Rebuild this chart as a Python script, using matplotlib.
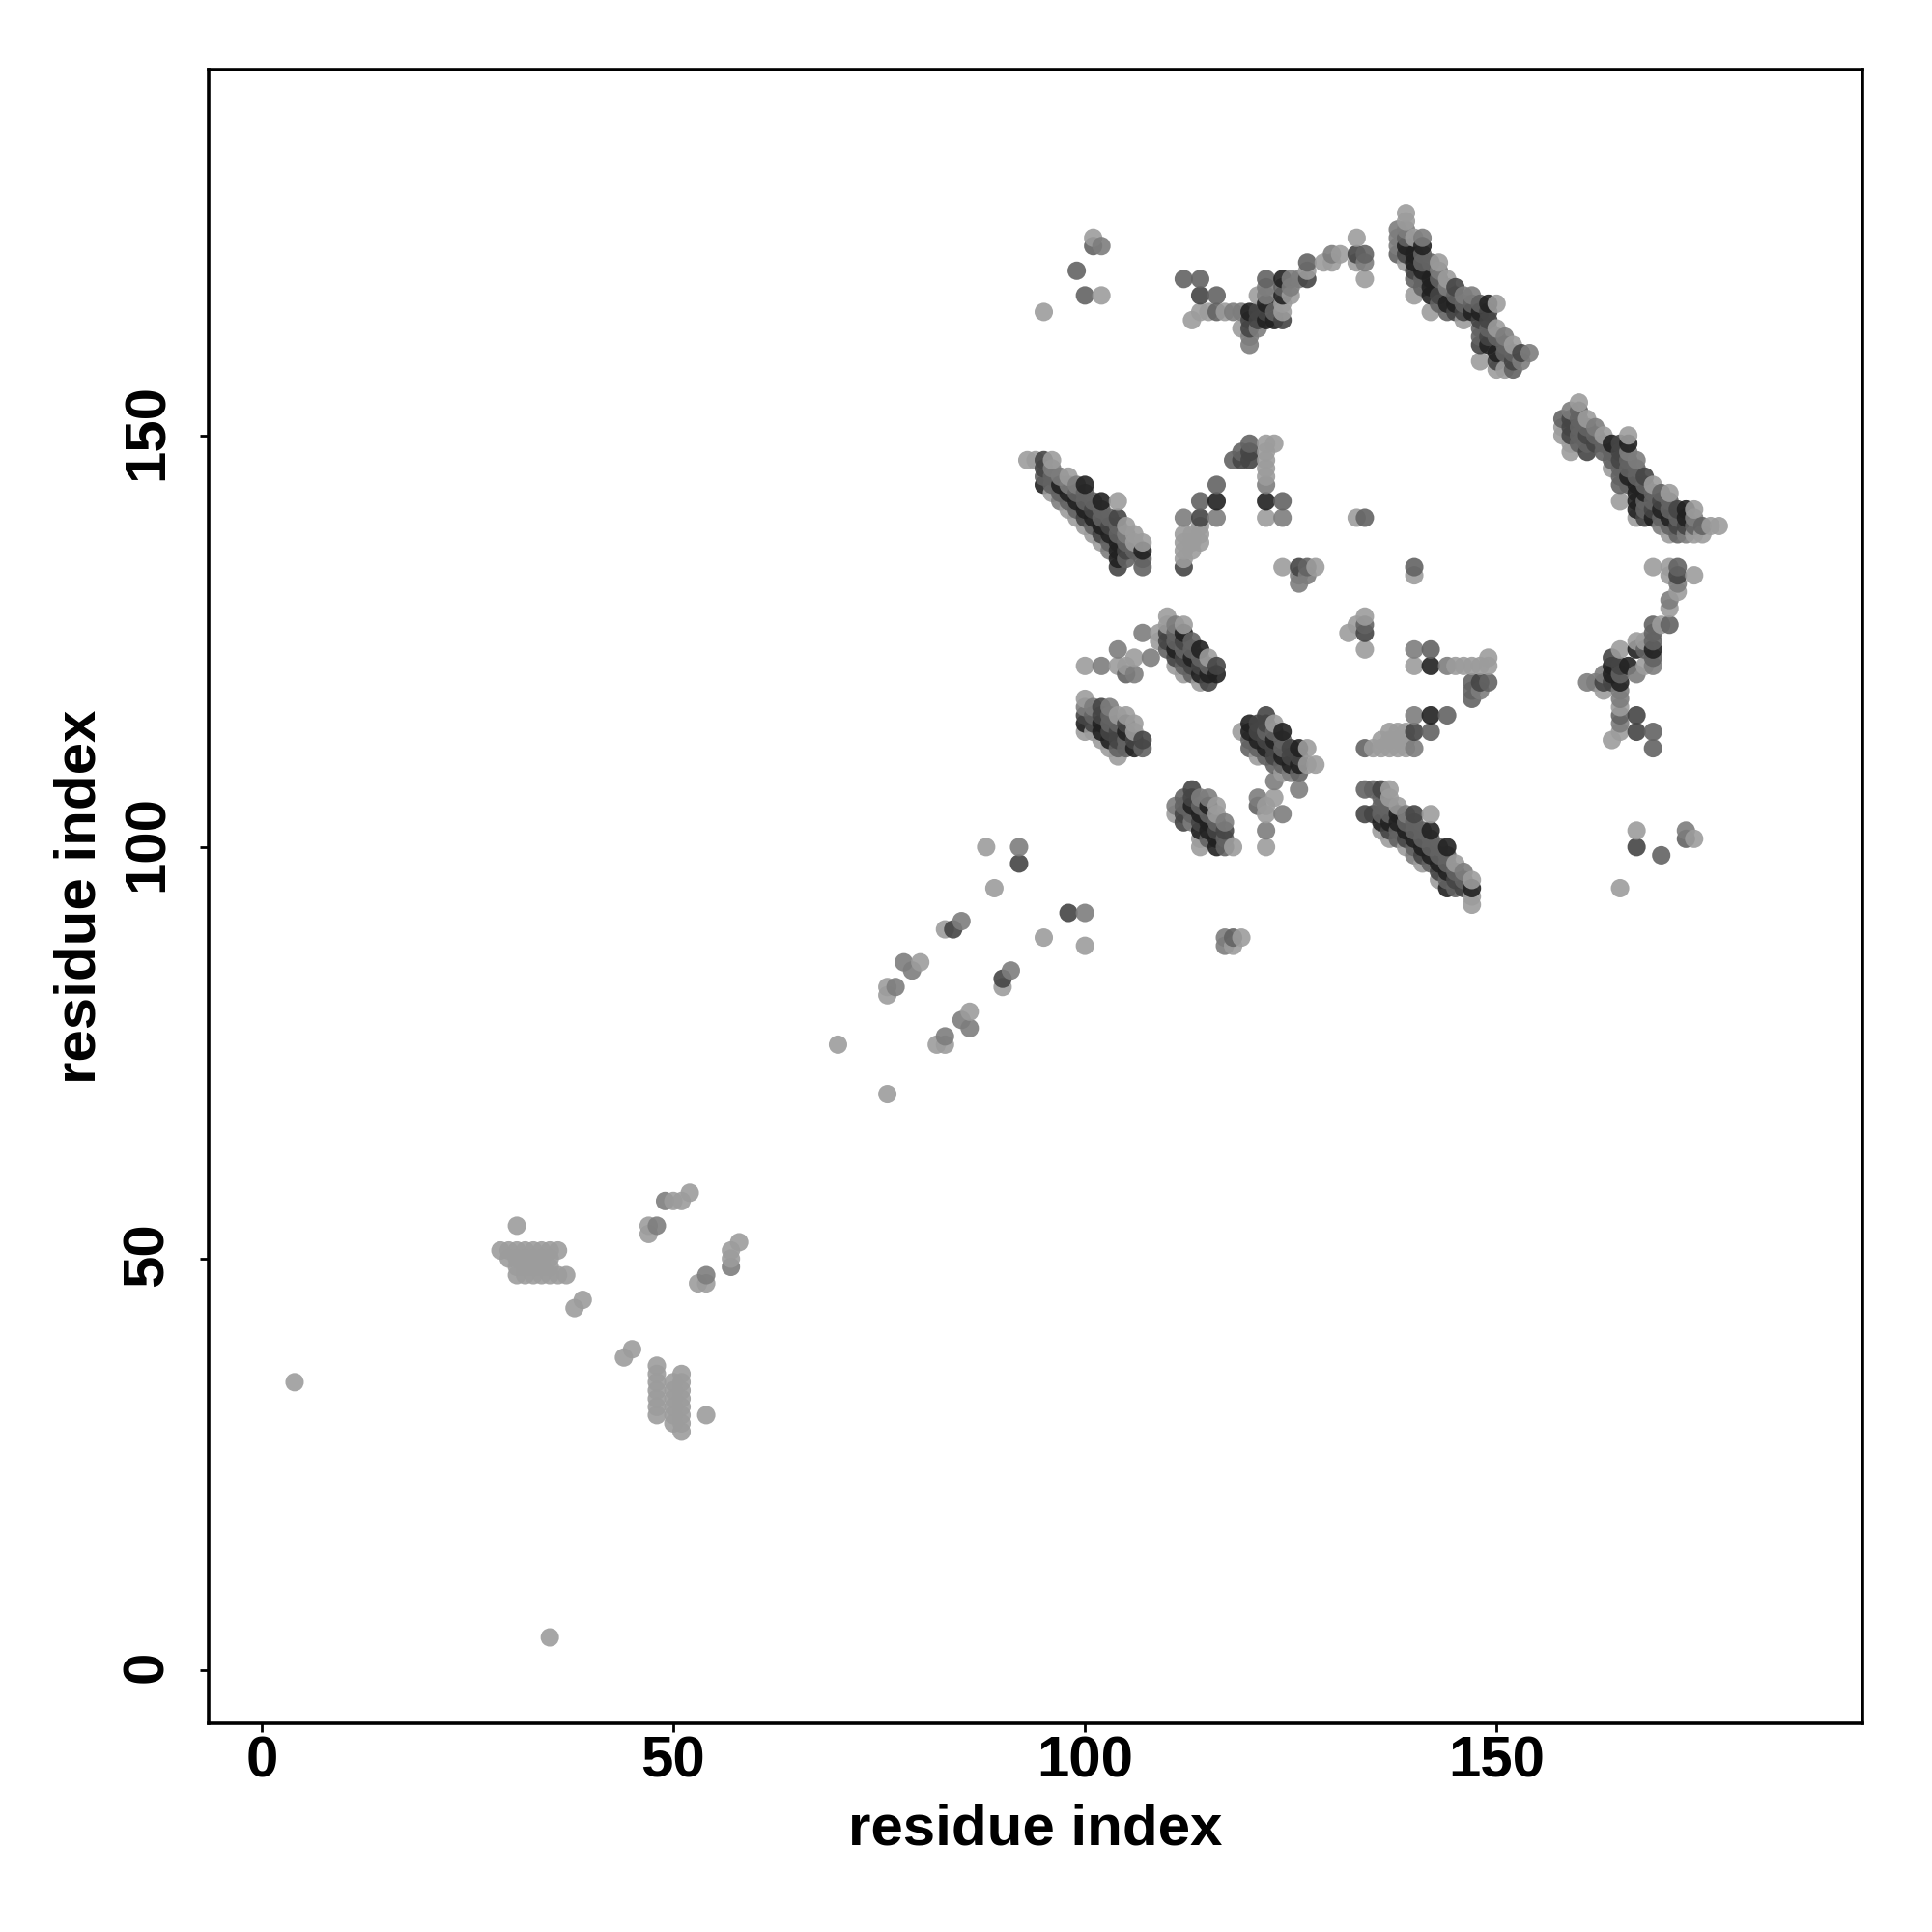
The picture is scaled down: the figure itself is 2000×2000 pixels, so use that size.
import numpy as np
import matplotlib
matplotlib.use('Agg')
import matplotlib.pyplot as plt
from matplotlib.transforms import ScaledTranslation

# each contact is (residue i, residue j, strength 1-5)
sparse_low = [(4,35,1),(35,4,1),(31,54,1),(38,44,1),(39,45,1),(44,38,1),(45,39,1),(54,31,1),
              (47,53,1),(47,54,1),(48,54,2),(49,57,2),(50,57,1),(51,57,1),(52,58,1),
              (53,47,1),(54,47,1),(54,48,2),(57,49,2),(57,50,1),(57,51,1),(58,52,1)]
block_row = [(29,51,1),(30,51,1),(31,51,1),(32,51,1),(33,51,1),(34,51,1),(35,51,1),(36,51,1),
             (30,50,1),(31,50,1),(32,50,1),(33,50,1),(34,50,1),(35,50,1),
             (31,49,1),(32,49,1),(33,49,1),(34,49,1),(35,49,1),
             (31,48,1),(32,48,1),(33,48,1),(34,48,1),(35,48,1),(36,48,1),(37,48,1)]
block_col = [(48,37,1),(48,36,1),(48,35,1),(48,34,1),(48,33,1),(48,32,1),(48,31,1),
             (50,35,1),(50,34,1),(50,33,1),(50,32,1),(50,31,1),(50,30,1),
             (51,36,1),(51,35,1),(51,34,1),(51,33,1),(51,32,1),(51,31,1),(51,30,1),(51,29,1)]
sparse_mid = [(70,76,1),(76,70,1),(76,82,1),(76,83,1),(77,83,2),(78,86,2),(79,85,2),(80,86,1),
              (82,76,1),(83,76,1),(83,77,2),(85,79,2),(86,78,2),(86,80,1),(83,90,1),(84,90,4),
              (85,91,2),(88,100,1),(89,95,1),(90,83,1),(90,84,4),(91,85,2),(92,100,2),(92,98,4),
              (95,89,1),(98,92,4),(100,92,2),(100,88,1),(117,89,2),(117,88,2),(118,88,1),
              (118,89,3),(119,89,1),(165,95,1),(167,102,1),(167,100,4),(170,99,3),(173,102,2),
              (173,101,3),(174,101,1)]

sheet_upper_left = [(93,147,1),(94,147,1),(95,147,4),(95,146,4),(95,145,3),(95,144,5),
    (96,147,1),(96,146,2),(96,145,3),(96,144,3),(96,143,1),(97,145,2),(97,144,5),(97,143,3),(97,142,2),
    (98,145,1),(98,144,2),(98,143,5),(98,142,3),(98,141,1),(99,144,2),(99,143,3),(99,142,5),(99,141,3),(99,140,1),
    (100,144,5),(100,143,3),(100,142,3),(100,141,5),(100,140,4),(100,139,1),
    (101,142,3),(101,141,4),(101,140,5),(101,139,3),(101,138,1),
    (102,142,5),(102,141,3),(102,140,3),(102,139,5),(102,138,4),(102,137,1),
    (103,140,3),(103,139,4),(103,138,5),(103,137,3),(103,136,2),
    (104,142,1),(104,140,4),(104,139,3),(104,138,3),(104,137,5),(104,136,5),(104,135,5),(104,134,4),
    (105,139,1),(105,138,2),(105,137,3),(105,136,4),(105,135,3),(106,138,1),(106,137,1),(106,136,3),
    (107,137,1),(107,136,5),(107,135,3),(107,134,3)]

sheet_centre_top = [(107,126,2),(109,126,1),(109,125,1),(110,128,1),(110,127,1),(110,126,4),(110,125,4),(110,124,3),
    (111,127,2),(111,126,3),(111,125,3),(111,124,5),(111,123,4),(111,122,1),
    (112,127,1),(112,126,5),(112,125,4),(112,124,3),(112,123,4),(112,122,3),(112,121,1),
    (113,125,3),(113,124,3),(113,123,5),(113,122,4),(113,121,3),
    (114,124,5),(114,123,3),(114,122,4),(114,121,5),(114,120,1),
    (115,123,1),(115,122,3),(115,121,5),(115,120,4),(116,122,4),(116,121,5),
    (100,122,1),(102,122,2),(104,124,2),(104,122,1),(105,122,1),(106,123,1),(105,121,3),(106,121,2),(108,123,2)]

sheet_centre_left = [(100,118,1),(100,117,2),(100,116,4),(100,115,5),(100,114,1),(101,117,2),(101,116,3),(101,115,4),(101,114,1),
    (102,117,4),(102,116,4),(102,115,5),(102,114,5),(102,113,1),(103,117,2),(103,116,3),(103,115,3),(103,114,4),(103,113,5),(103,112,1),
    (104,116,1),(104,115,3),(104,114,4),(104,113,4),(104,112,3),(104,111,1),
    (105,116,1),(105,115,4),(105,114,5),(105,113,3),(105,112,3),(106,115,1),(106,114,1),(106,113,4),(106,112,5),(107,113,4),(107,112,3)]

sheet_centre_right = [(119,114,1),(120,115,5),(120,114,5),(120,113,3),(120,112,3),(121,115,4),(121,114,4),(121,113,5),(121,112,3),(121,111,1),
    (122,116,4),(122,115,4),(122,114,3),(122,113,4),(122,112,5),(122,111,3),
    (123,115,1),(123,114,3),(123,113,5),(123,112,4),(123,111,4),(123,110,3),(123,108,2),
    (124,114,5),(124,113,3),(124,112,3),(124,111,5),(124,110,3),(124,109,1),
    (125,112,4),(125,111,4),(125,110,5),(125,109,2),(126,112,5),(126,111,4),(126,110,5),(126,109,3),(126,107,2),
    (127,112,1),(127,110,1),(128,110,1)]

sheet_centre_low = [(111,105,2),(111,104,1),(112,106,3),(112,105,3),(112,104,4),(112,103,4),
    (113,107,4),(113,106,4),(113,105,5),(113,104,3),(113,103,2),
    (114,106,2),(114,105,3),(114,104,5),(114,103,4),(114,102,5),(114,101,1),(114,100,1),
    (115,106,2),(115,105,5),(115,104,3),(115,103,5),(115,102,5),(115,101,3),
    (116,105,1),(116,104,1),(116,103,3),(116,102,4),(116,101,5),(116,100,5),
    (117,103,2),(117,102,4),(117,101,3),(117,100,3),(118,100,1),
    (121,106,2),(121,105,3),(122,105,1),(122,104,1),(123,106,1),(124,104,2),(122,102,2),(122,100,1)]

sheet_lower_right = [(134,107,3),(134,104,4),(135,107,3),(135,104,4),(136,107,4),(136,106,3),(136,105,3),(136,104,3),(136,103,5),(136,102,1),
    (137,107,1),(137,106,1),(137,105,3),(137,104,3),(137,103,5),(137,102,4),(137,101,1),
    (138,105,1),(138,104,5),(138,103,5),(138,102,3),(138,101,3),
    (139,104,2),(139,103,3),(139,102,5),(139,101,4),(139,100,1),
    (140,104,4),(140,103,3),(140,102,3),(140,101,5),(140,100,3),(140,99,2),
    (141,102,3),(141,101,3),(141,100,5),(141,99,4),(141,98,1),
    (142,104,1),(142,102,5),(142,101,3),(142,100,3),(142,99,5),(142,98,3),
    (143,100,3),(143,99,3),(143,98,5),(143,97,4),(143,96,1),
    (144,100,5),(144,99,3),(144,98,3),(144,97,5),(144,96,3),(144,95,5),
    (145,98,1),(145,97,3),(145,96,4),(145,95,3),(146,97,2),(146,96,3),(146,95,4),
    (147,96,1),(147,95,5),(147,94,1),(147,93,1)]

middle_right = [(132,126,1),(133,127,1),(134,128,1),(134,127,3),(134,126,4),(134,124,1),
    (140,124,2),(142,124,3),(140,122,1),(142,122,5),(144,122,2),(145,122,1),(146,122,1),(147,122,1),
    (148,122,1),(149,123,1),(149,122,1),(147,120,3),(148,120,4),(149,120,3),(147,119,3),(148,119,2),(147,118,3),
    (140,116,2),(142,116,5),(144,116,3),(140,114,4),(142,114,3),(140,112,2),(134,112,3),
    (135,112,1),(136,112,1),(137,112,1),(138,112,1),(139,112,1),(136,113,1),(137,113,1),(138,113,1),(139,113,1),
    (137,114,1),(138,114,1),(139,114,1)]

star_top = [(118,147,3),(119,148,3),(119,147,4),(120,149,3),(120,148,4),(120,147,4),
    (122,149,1),(123,149,1),(122,148,1),(122,147,1),(122,146,1),(122,145,1),(122,144,2),(122,142,5),(124,142,3),(122,140,1),(124,140,2),
    (116,144,3),(116,142,5),(114,142,3),(112,140,2),(114,140,4),(116,140,2),
    (112,138,1),(112,137,1),(112,136,1),(112,135,1),(112,134,4),(113,138,1),(113,137,1),(113,136,1),
    (114,139,1),(114,138,1),(114,137,1),(133,140,1),(134,140,3),
    (124,134,1),(126,134,4),(127,134,3),(128,134,1),(126,133,2),(127,133,2),(126,132,2),(140,134,3),(140,133,1)]

top_arc = [(101,174,1),(102,173,2),(101,173,3),(99,170,3),(100,167,3),(102,167,1),(95,165,1),
    (112,169,3),(114,169,3),(114,167,4),(116,167,3),(113,164,1),(114,165,1),(115,165,1),(116,165,3),(117,165,1),(118,165,2),(119,165,2),
    (120,161,2),(120,162,2),(119,163,1),(120,163,4),(120,164,4),(120,165,5),(121,163,2),(121,164,4),(121,165,4),(121,167,1),
    (122,169,3),(122,168,2),(122,167,2),(122,166,5),(122,165,4),(122,164,5),(123,164,5),(123,165,3),
    (124,165,1),(124,164,4),(124,169,5),(124,167,5),(124,168,3),(125,169,2),(125,168,2),(125,167,1),(124,166,1),
    (126,169,2),(127,169,4),(127,170,1),(127,171,3),(129,171,1),(130,171,1),(130,172,2),(131,172,1),
    (133,174,1),(133,172,4),(133,171,1),(134,172,3),(134,171,2),(134,169,1)]

sheet_top_right = [(138,175,2),(138,174,2),(138,173,2),(138,172,3),(139,177,1),(139,176,1),(139,175,2),(139,174,3),(139,173,5),(139,172,4),(139,171,1),
    (140,174,1),(140,172,5),(140,171,5),(140,170,4),(140,169,3),(140,167,1),
    (141,174,2),(141,173,5),(141,172,3),(141,171,3),(141,170,5),(141,169,3),(141,168,3),
    (142,171,3),(142,169,5),(142,168,5),(142,167,5),(142,165,1),
    (143,171,1),(143,170,2),(143,169,3),(143,167,4),(143,166,3),
    (144,169,1),(144,168,2),(144,166,5),(144,165,3),
    (145,168,4),(145,167,3),(145,166,5),(145,165,4),(146,167,2),(146,166,3),(146,165,4),(146,164,1),
    (147,167,2),(147,166,3),(147,165,5),(148,166,3),(148,165,5),(148,164,4),(148,163,3),(148,162,3),(148,161,4),(148,159,1),
    (149,166,5),(149,165,4),(149,164,4),(149,163,3),(149,162,4),(149,161,5),
    (150,166,1),(150,163,1),(150,162,3),(150,160,5),(150,159,4),(150,158,1),
    (151,162,2),(151,161,3),(151,160,3),(151,158,1),(152,161,1),(152,160,3),(152,159,4),(152,158,3),
    (153,160,4),(153,159,2),(154,160,2)]

sheet_far_right = [(158,152,3),(158,151,1),(158,150,1),(159,153,2),(159,152,4),(159,151,4),(159,150,4),(159,149,1),(159,148,1),
    (160,154,1),(160,153,3),(160,152,3),(160,151,3),(160,150,3),(160,149,3),
    (161,152,1),(161,151,3),(161,150,4),(161,149,3),(161,148,4),(162,151,2),(162,150,3),(162,149,4),
    (163,150,1),(163,149,3),(163,148,3),(164,149,5),(164,148,3),(164,147,3),(164,146,1),
    (165,149,4),(165,148,4),(165,147,4),(165,146,3),(165,145,3),(165,144,3),(165,142,1),
    (166,150,1),(166,149,5),(166,148,2),(166,147,3),(166,146,3),(166,145,5),(166,144,3),
    (167,147,2),(167,146,3),(167,145,3),(167,144,5),(167,143,5),(167,142,5),(167,141,5),(167,140,1),
    (168,145,4),(168,144,3),(168,143,5),(168,142,3),(168,141,3),(168,140,4),
    (169,144,1),(169,143,3),(169,142,3),(169,141,4),(169,140,5),
    (170,143,3),(170,142,4),(170,141,5),(170,140,3),(170,139,2),
    (171,143,1),(171,142,3),(171,141,3),(171,140,5),(171,139,3),(171,138,1),
    (172,141,4),(172,140,3),(172,139,4),(172,138,3),(173,141,5),(173,140,5),(173,139,4),(173,138,2),
    (174,141,1),(174,140,2),(174,139,3),(174,138,1),(175,139,3),(175,138,1),(176,139,1),(177,139,1)]

far_right_tail = [(169,134,1),(171,134,1),(172,134,3),(171,133,1),(172,133,4),(174,133,1),(172,132,2),(172,131,1),(171,130,2),(171,129,1),
    (169,127,3),(170,127,1),(171,127,3),(169,126,3),(169,125,3),(169,124,5),(169,123,3),(169,122,2),
    (168,125,1),(168,124,3),(167,125,1),(167,124,5),(166,122,5),(167,121,2),(168,122,1),
    (165,124,1),(164,123,4),(165,122,4),(165,121,3),(165,120,5),(164,122,5),(164,121,5),(164,120,4),
    (163,121,2),(163,120,4),(163,119,1),(161,120,2),(162,120,2),
    (165,119,2),(165,118,2),(165,117,1),(165,116,3),(165,115,2),(165,114,1),(164,113,1),(167,116,4),(167,114,4),(169,114,3),(169,112,3)]

contacts = (sparse_low + block_row + block_col + sparse_mid + sheet_upper_left + sheet_centre_top
            + sheet_centre_left + sheet_centre_right + sheet_centre_low + sheet_lower_right
            + middle_right + star_top + top_arc + sheet_top_right + sheet_far_right + far_right_tail)

x_ticks = [0, 50, 100, 150]
y_ticks = [0, 50, 100, 150]
tick_labels = ['0', '50', '100', '150']

# grey for each strength
greys = {1: 0.61, 2: 0.49, 3: 0.39, 4: 0.27, 5: 0.13}

pts = np.array(contacts)
pts = pts[np.lexsort((pts[:, 1], pts[:, 0]))]  # drawn by i then j, later ones on top
cols = [(greys[s], greys[s], greys[s], 0.9) for s in pts[:, 2]]

plt.rcParams['font.family'] = 'Liberation Sans'
plt.rcParams['font.weight'] = 'bold'

fig = plt.figure(figsize=(10, 10), dpi=200)
ax = fig.add_axes([216 / 2000, 216 / 2000, 1712 / 2000, 1712 / 2000])
ax.scatter(pts[:, 0], pts[:, 1], s=47, c=cols, linewidths=0)

ax.set_xlim(-6.44, 194.44)
ax.set_ylim(-6.44, 194.44)
ax.set_xticks(x_ticks, tick_labels)
ax.set_yticks(y_ticks, tick_labels, rotation=90, ha='center', va='baseline', rotation_mode='anchor')
ax.tick_params(axis='both', length=3.1, width=1.0, labelsize=21.6)
ax.tick_params(axis='x', pad=1.5)
ax.tick_params(axis='y', pad=14)
# nudge the rotated labels so they sit centred on the ticks
nudge = ScaledTranslation(0, 1.4 / 72, fig.dpi_scale_trans)
for lab in ax.get_yticklabels():
    lab.set_transform(lab.get_transform() + nudge)
for sp in ax.spines.values():
    sp.set_linewidth(1.3)

ax.set_xlabel('residue index', fontsize=21.6, fontweight='bold', labelpad=5.4)
ax.yaxis.set_label_coords(-0.0618, 0.5)
ax.set_ylabel('residue index', fontsize=21.6, fontweight='bold')

fig.savefig('out.png', dpi=200)
